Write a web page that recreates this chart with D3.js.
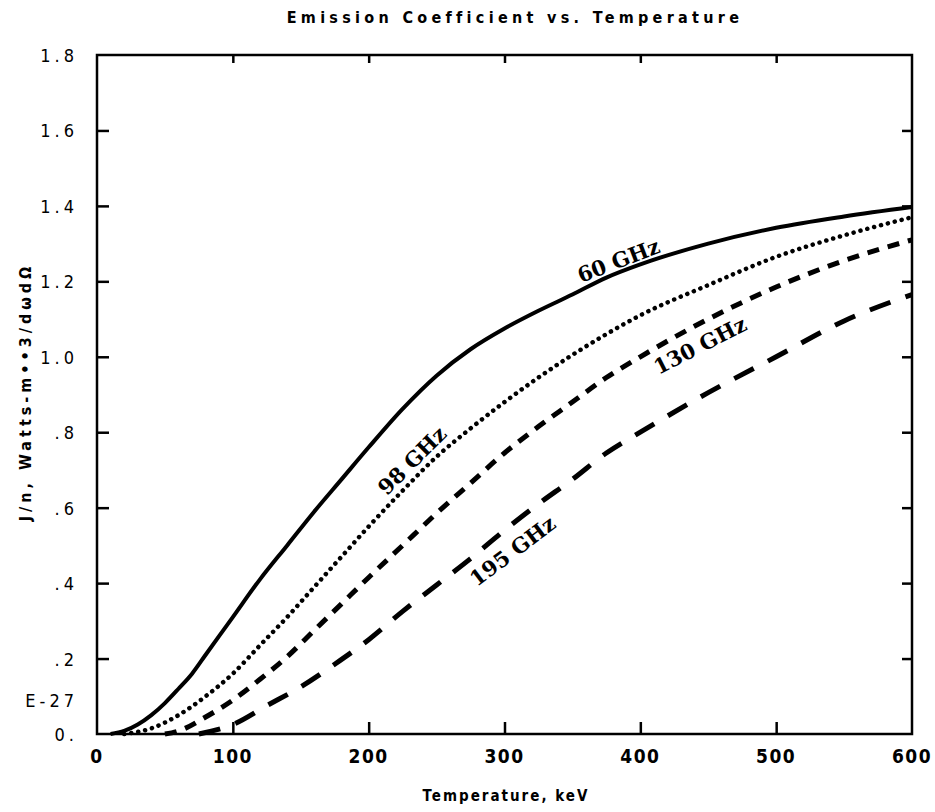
<!DOCTYPE html>
<html>
<head>
<meta charset="utf-8">
<script src="https://cdn.jsdelivr.net/npm/d3@7"></script>
<style>
  *{box-sizing: border-box;}
  body{ margin: 0; padding: 0; background: #fff; }
  svg{ display: block; }
  .tick-y{ font-family: "DejaVu Sans Condensed", "DejaVu Sans", sans-serif; font-size: 18px; letter-spacing: 4px; }
  .tick-x{ font-family: "DejaVu Sans Condensed", "DejaVu Sans", sans-serif; font-size: 19px; font-weight: bold; letter-spacing: 1.5px; }
  .ttl{ font-family: "DejaVu Sans Condensed", "DejaVu Sans", sans-serif; font-weight: bold; }
  .lbl{ font-family: "DejaVu Serif", "Liberation Serif", serif; font-weight: bold; font-size: 21px; }
</style>
</head>
<body>
<svg id="chart" width="935" height="812"></svg>
<script>
  // temperature (keV) / J/n (E-27)
  let ghz60  = [[10,0],[20,0.008],[30,0.025],[40,0.05],[50,0.082],[60,0.12],[70,0.16],[80,0.21],[90,0.26],[100,0.31],[120,0.41],[140,0.50],[160,0.59],[180,0.675],[200,0.76],[225,0.862],[250,0.95],[275,1.02],[300,1.075],[325,1.122],[350,1.165],[375,1.21],[400,1.245],[450,1.30],[500,1.342],[550,1.372],[600,1.397]];
  let ghz98  = [[20,0],[40,0.015],[60,0.05],[80,0.10],[100,0.16],[120,0.235],[140,0.31],[160,0.39],[180,0.47],[200,0.55],[225,0.645],[250,0.735],[275,0.81],[300,0.88],[325,0.945],[350,1.005],[375,1.06],[400,1.11],[450,1.19],[500,1.265],[550,1.322],[600,1.37]];
  let ghz130 = [[50,0],[60,0.008],[80,0.045],[100,0.09],[120,0.145],[140,0.205],[160,0.275],[180,0.345],[200,0.415],[225,0.50],[250,0.585],[275,0.665],[300,0.745],[325,0.815],[350,0.88],[375,0.945],[400,1.0],[450,1.10],[500,1.185],[550,1.255],[600,1.31]];
  let ghz195 = [[75,0],[100,0.025],[125,0.075],[150,0.125],[175,0.185],[200,0.25],[225,0.325],[250,0.395],[275,0.465],[300,0.54],[325,0.61],[350,0.675],[375,0.745],[400,0.80],[450,0.905],[500,1.0],[550,1.095],[600,1.165]];

  let xTicks = [0, 100, 200, 300, 400, 500, 600];
  let yTicks = [0, 0.2, 0.4, 0.6, 0.8, 1.0, 1.2, 1.4, 1.6, 1.8];
  let yTickLabels = ['0.', '.2', '.4', '.6', '.8', '1.0', '1.2', '1.4', '1.6', '1.8'];

  let series = [
    {name: '60 GHz',  data: ghz60,  dash: null,      w: 4,   cap: 'butt',  lx: 384, ly: 1.255, rot: -21},
    {name: '98 GHz',  data: ghz98,  dash: '0.1 7',   w: 4.5, cap: 'round', lx: 232, ly: 0.725, rot: -45},
    {name: '130 GHz', data: ghz130, dash: '12 9',    w: 5,   cap: 'butt',  lx: 444, ly: 1.03,  rot: -27},
    {name: '195 GHz', data: ghz195, dash: '22 16',   w: 5,   cap: 'butt',  lx: 306, ly: 0.485, rot: -37}
  ];

  let svg = d3.select('#chart');
  let x = d3.scaleLinear().domain([0, 600]).range([97, 912]);
  let y = d3.scaleLinear().domain([0, 1.8]).range([734, 55]);

  // curves
  let line = d3.line()
    .x(d => x(d[0]))
    .y(d => y(d[1]))
    .curve(d3.curveMonotoneX);

  svg.selectAll('.curve')
    .data(series)
    .enter()
    .append('path')
      .attr('class', 'curve')
      .attr('d', d => line(d.data))
      .attr('fill', 'none')
      .attr('stroke', '#000')
      .attr('stroke-width', d => d.w)
      .attr('stroke-linecap', d => d.cap)
      .attr('stroke-dasharray', d => d.dash);

  // axes, ticks pointing inward on all four sides
  let fmtY = d => yTickLabels[yTicks.indexOf(d)];
  svg.append('g')
    .attr('transform', `translate(0,${y(0)})`)
    .call(d3.axisTop(x).tickValues(xTicks.slice(1, -1)).tickSize(12).tickFormat(''));
  svg.append('g')
    .attr('transform', `translate(0,${y(1.8)})`)
    .call(d3.axisBottom(x).tickValues(xTicks.slice(1, -1)).tickSize(8).tickFormat(''));
  svg.append('g')
    .attr('transform', `translate(${x(0)},0)`)
    .call(d3.axisRight(y).tickValues(yTicks.slice(1, -1)).tickSize(12).tickFormat(''));
  svg.append('g')
    .attr('transform', `translate(${x(600)},0)`)
    .call(d3.axisLeft(y).tickValues(yTicks.slice(1, -1)).tickSize(10).tickFormat(''));
  svg.selectAll('.domain').remove();
  svg.selectAll('.tick line').attr('stroke', '#000').attr('stroke-width', 2.5);

  // frame
  svg.append('rect')
    .attr('x', x(0)).attr('y', y(1.8))
    .attr('width', x(600) - x(0)).attr('height', y(0) - y(1.8))
    .attr('fill', 'none').attr('stroke', '#000').attr('stroke-width', 2.5);

  // tick labels
  svg.selectAll('.tick-y')
    .data(yTicks)
    .enter()
    .append('text')
      .attr('class', 'tick-y')
      .attr('x', 78)
      .attr('y', d => y(d) + 7)
      .attr('text-anchor', 'end')
      .text(fmtY);
  svg.append('text')
    .attr('class', 'tick-y')
    .attr('x', 78)
    .attr('y', y(0.09) + 7)
    .attr('text-anchor', 'end')
    .text('E-27');

  svg.selectAll('.tick-x')
    .data(xTicks)
    .enter()
    .append('text')
      .attr('class', 'tick-x')
      .attr('x', d => x(d))
      .attr('y', 763)
      .attr('text-anchor', 'middle')
      .text(d => d);

  // titles
  svg.append('text')
    .attr('class', 'ttl')
    .attr('x', 515).attr('y', 23)
    .attr('text-anchor', 'middle')
    .style('font-size', '16px')
    .style('letter-spacing', '4.3px')
    .text('Emission Coefficient vs. Temperature');
  svg.append('text')
    .attr('class', 'ttl')
    .attr('x', 506).attr('y', 801)
    .attr('text-anchor', 'middle')
    .style('font-size', '15px')
    .style('letter-spacing', '2px')
    .text('Temperature, keV');
  svg.append('text')
    .attr('class', 'ttl')
    .attr('transform', 'translate(31,392) rotate(-90)')
    .attr('text-anchor', 'middle')
    .style('font-size', '16px')
    .style('letter-spacing', '4px')
    .text('J/n, Watts-m••3/dωdΩ');

  // curve labels
  svg.selectAll('.lbl')
    .data(series)
    .enter()
    .append('text')
      .attr('class', 'lbl')
      .attr('text-anchor', 'middle')
      .attr('dy', '0.35em')
      .attr('transform', d => `translate(${x(d.lx)},${y(d.ly)}) rotate(${d.rot})`)
      .text(d => d.name);
</script>
</body>
</html>
